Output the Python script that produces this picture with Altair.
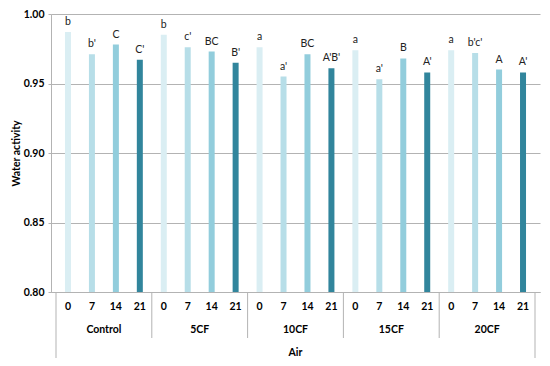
import altair as alt
import pandas as pd

groups = ["Control", "5CF", "10CF", "15CF", "20CF"]
days = ["0", "7", "14", "21"]
values = [0.987, 0.971, 0.978, 0.967,
          0.985, 0.976, 0.973, 0.965,
          0.976, 0.955, 0.971, 0.961,
          0.974, 0.953, 0.968, 0.958,
          0.974, 0.972, 0.960, 0.958]
letters = ["b", "b'", "C", "C'",
           "b", "c'", "BC", "B'",
           "a", "a'", "BC", "A'B'",
           "a", "a'", "B", "A'",
           "a", "b'c'", "A", "A'"]
colors = ["#DAEEF3", "#B7DEE8", "#92CDDC", "#31859C"]
treatment = "Air"
yticks = [0.80, 0.85, 0.90, 0.95, 1.00]

W, H = 489, 278
FONT = "Lato"
FS = 10.5
GRID = "#b3b3b3"

rows = []
for gi, g in enumerate(groups):
    for di, d in enumerate(days):
        k = gi * len(days) + di
        rows.append({"idx": k, "group": g, "day": d, "value": values[k], "letter": letters[k]})
df = pd.DataFrame(rows)

ng = len(groups) * len(days)
gdf = pd.DataFrame({"group": groups, "center": [gi * 4 + 1.5 for gi in range(len(groups))]})
sep = pd.DataFrame({"pos": [gi * 4 - 0.5 for gi in range(1, len(groups))]})
edges = pd.DataFrame({"pos": [-0.5, ng - 0.5]})
tdf = pd.DataFrame({"label": [treatment], "center": [(ng - 1) / 2]})

xscale = alt.Scale(domain=[-0.5, ng - 0.5], nice=False, zero=False)
xaxis = alt.Axis(labels=False, ticks=False, grid=False, title=None, domainColor=GRID)
yscale = alt.Scale(domain=[0.80, 1.00], nice=False, zero=False)
yaxis = alt.Axis(values=yticks, format=".2f", title="Water activity", grid=True,
                 gridColor=GRID, domainColor=GRID, tickColor=GRID, tickSize=3,
                 labelPadding=4, titlePadding=2, labelFont=FONT, labelFontSize=FS,
                 labelFontWeight="bold", labelColor="#000", titleFont=FONT,
                 titleFontSize=FS, titleFontWeight="bold", titleColor="#000")

base = alt.Chart(df)
bars = base.mark_bar(size=6).encode(
    x=alt.X("idx:Q", scale=xscale, axis=xaxis),
    y=alt.Y("value:Q", scale=yscale, axis=yaxis),
    y2=alt.datum(0.80),
    color=alt.Color("day:N", scale=alt.Scale(domain=days, range=colors), legend=None),
)
lbl = base.mark_text(dy=-7, baseline="alphabetic", font=FONT, fontSize=FS, color="#222").encode(
    x="idx:Q", y="value:Q", text="letter:N")
daylbl = base.mark_text(font=FONT, fontSize=FS, fontWeight="bold", color="#000", baseline="middle").encode(
    x="idx:Q", y=alt.value(H + 15), text="day:N")
grplbl = alt.Chart(gdf).mark_text(font=FONT, fontSize=FS, fontWeight="bold", color="#000", baseline="middle").encode(
    x="center:Q", y=alt.value(H + 38), text="group:N")
trtlbl = alt.Chart(tdf).mark_text(font=FONT, fontSize=FS, fontWeight="bold", color="#000", baseline="middle").encode(
    x="center:Q", y=alt.value(H + 61), text="label:N")
seps = alt.Chart(sep).mark_rule(color=GRID, strokeWidth=1).encode(
    x="pos:Q", y=alt.value(H), y2=alt.value(H + 46))
edg = alt.Chart(edges).mark_rule(color=GRID, strokeWidth=1).encode(
    x="pos:Q", y=alt.value(H), y2=alt.value(H + 66))

chart = alt.layer(bars, lbl, daylbl, grplbl, trtlbl, seps, edg).properties(
    width=W, height=H,
    autosize=alt.AutoSizeParams(type="none"),
    padding={"left": 43, "top": 6, "right": 2, "bottom": 66},
).configure_view(stroke=None)

chart.save("out.html", embed_options={"renderer": "svg", "actions": False})
